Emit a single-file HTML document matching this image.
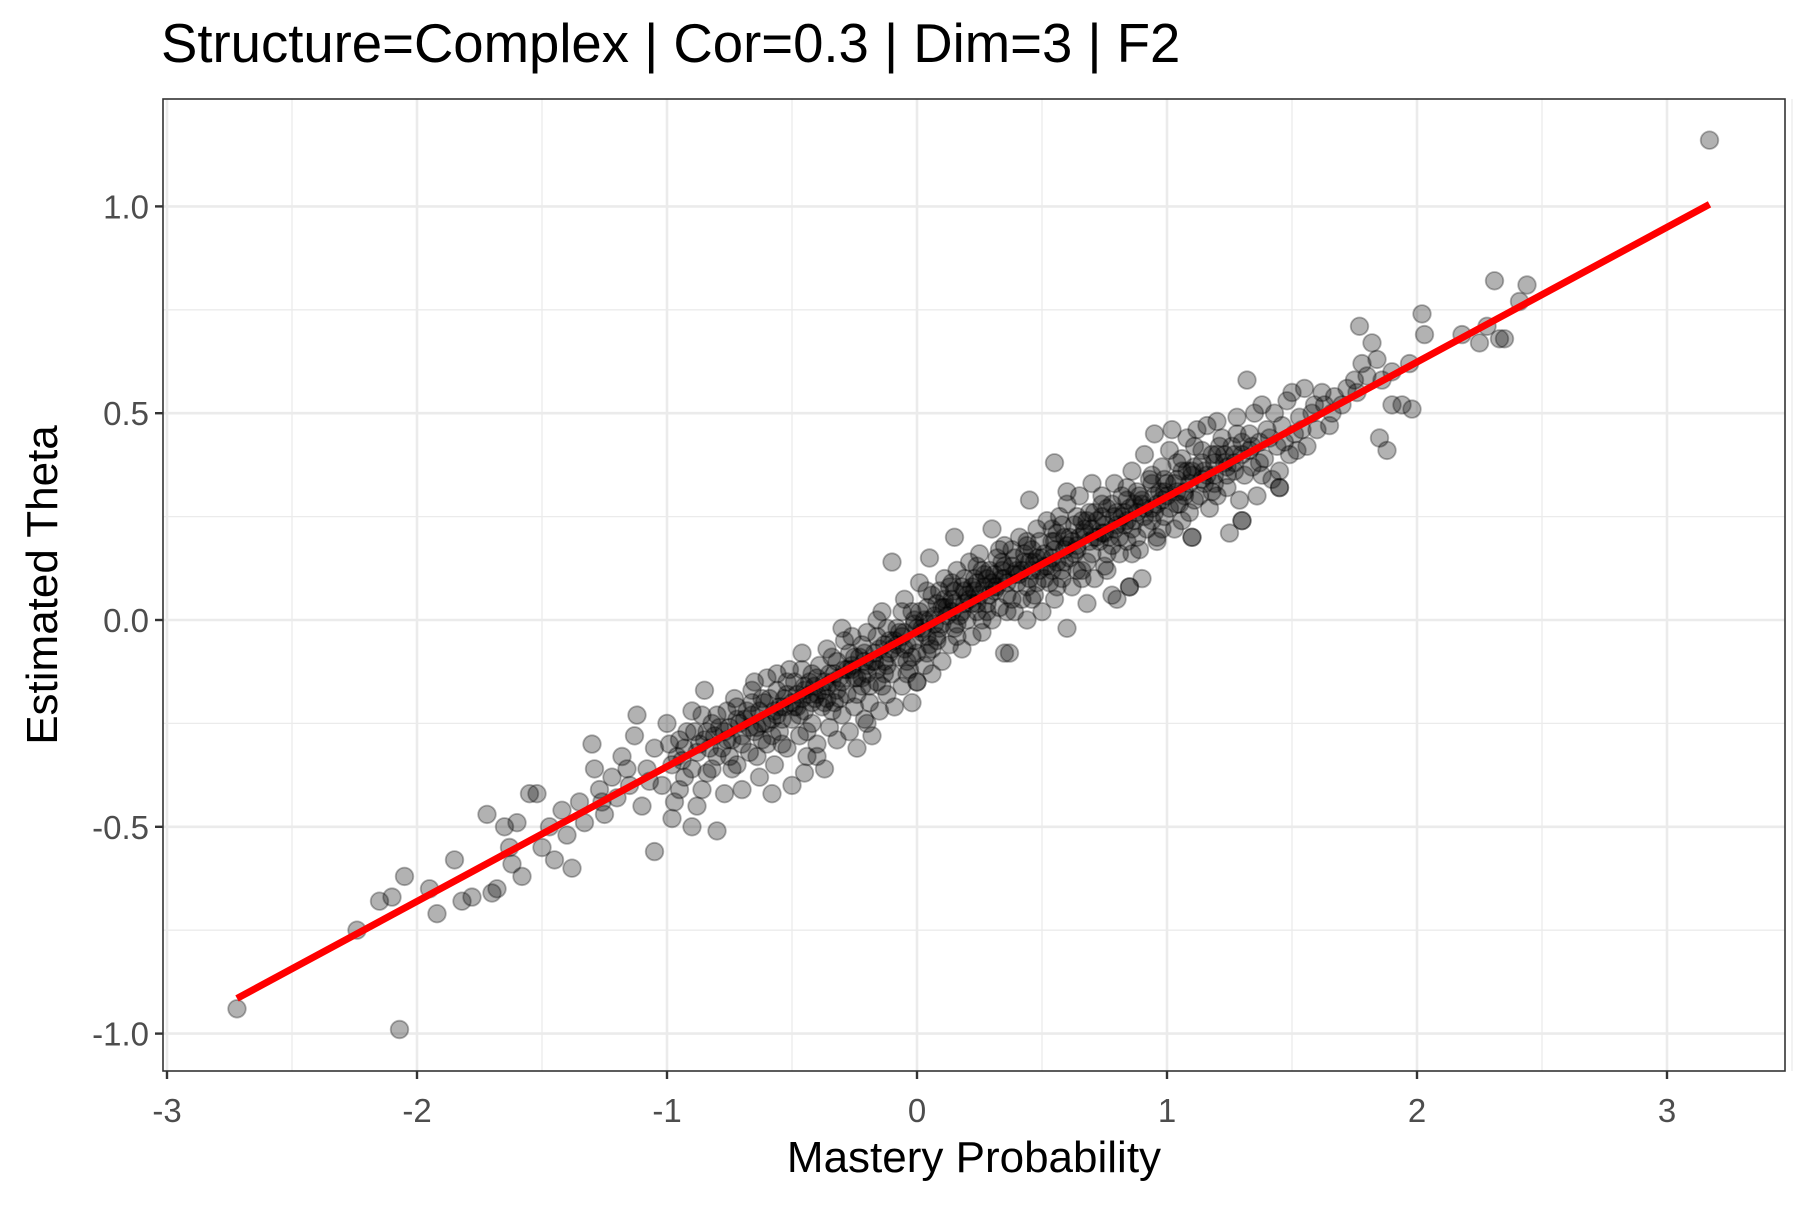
<!DOCTYPE html>
<html><head><meta charset="utf-8"><style>
body{margin:0;background:#fff}
svg text{font-family:"Liberation Sans",Arial,sans-serif}
</style></head><body>
<svg id="chart" width="1800" height="1200" xmlns="http://www.w3.org/2000/svg">
<text x="161" y="62" font-size="54.5" fill="#000">Structure=Complex | Cor=0.3 | Dim=3 | F2</text>
<rect x="163" y="99" width="1622" height="972" fill="#fff"/>
<g id="grid"></g>
<g id="pts"></g>
<g id="fit"></g>
<rect x="163" y="99" width="1622" height="972" fill="none" stroke="#333" stroke-width="1.6"/>
<g id="axes"></g>
<text x="974" y="1172" font-size="44" text-anchor="middle" fill="#000">Mastery Probability</text>
<text transform="translate(57,585) rotate(-90)" font-size="44" text-anchor="middle" fill="#000">Estimated Theta</text>
</svg>
<script>
const xTicks=[-3,-2,-1,0,1,2,3];
const xTickLabels=["-3","-2","-1","0","1","2","3"];
const yTicks=[-1.0,-0.5,0.0,0.5,1.0];
const yTickLabels=["-1.0","-0.5","0.0","0.5","1.0"];
const fitX=[-2.72,3.17];
const fitY=[-0.915,1.005];
const observations=[
[-2.72,-0.94],[-2.07,-0.99],[3.17,1.16],[2.31,0.82],[2.44,0.81],[2.41,0.77],[2.02,0.74],[1.77,0.71],[1.85,0.44],[1.88,0.41],[1.98,0.51],[2.33,0.68],[2.35,0.68],[2.18,0.69],[2.25,0.67],[1.97,0.62],[2.03,0.69],[2.28,0.71],[1.82,0.67],[1.9,0.6],[1.84,0.63],[1.8,0.59],[1.86,0.58],[1.94,0.52],
[-2.24,-0.75],[-2.05,-0.62],[-2.1,-0.67],[-2.15,-0.68],[-1.95,-0.65],[-1.92,-0.71],[-1.85,-0.58],[-1.82,-0.68],[-1.78,-0.67],[-1.7,-0.66],[-1.68,-0.65],[-1.72,-0.47],[-1.65,-0.5],[-1.63,-0.55],[-1.6,-0.49],[-1.55,-0.42],[-1.52,-0.42],[-1.58,-0.62],[-1.62,-0.59],[-1.5,-0.55],[-1.47,-0.5],[-1.45,-0.58],[-1.42,-0.46],[-1.4,-0.52],[-1.38,-0.6],[-1.35,-0.44],[-1.33,-0.49],[-1.3,-0.3],[-1.29,-0.36],[-1.27,-0.41],[-1.25,-0.47],[-1.22,-0.38],[-1.2,-0.43],[-1.18,-0.33],[-1.15,-0.4],[-1.13,-0.28],[-1.1,-0.45],[-1.08,-0.36],[-1.05,-0.56],[-1.05,-0.31],[-1.02,-0.4],[-1.0,-0.25],[-0.98,-0.35],[-0.97,-0.44],[-0.95,-0.29],[-0.93,-0.38],[-0.9,-0.5],[-0.9,-0.22],[-0.88,-0.32],[-0.86,-0.41],[-0.85,-0.17],[-0.84,-0.27],[-0.82,-0.36],[-0.8,-0.51],[-0.8,-0.23],[-0.78,-0.31],[-0.77,-0.42],[-0.75,-0.26],[-0.73,-0.19],[-0.72,-0.35],[-0.7,-0.41],[-0.7,-0.28],[-0.68,-0.22],[-0.67,-0.32],[-0.65,-0.15],[-0.64,-0.26],[-0.63,-0.38],[-0.61,-0.2],[-0.6,-0.3],[-0.58,-0.24],[-0.57,-0.35],[-0.56,-0.17],[-0.55,-0.27],[-0.53,-0.21],[-0.52,-0.31],[-0.51,-0.12],[-0.5,-0.4],[-0.5,-0.24],[-0.48,-0.18],[-0.47,-0.28],[-0.46,-0.08],[-0.45,-0.22],[-0.44,-0.33],[-0.43,-0.15],[-0.42,-0.25],[-0.41,-0.19],[-0.4,-0.3],[-0.39,-0.11],[-0.38,-0.21],[-0.37,-0.36],[-0.36,-0.16],[-0.35,-0.26],[-0.34,-0.09],[-0.33,-0.2],[-0.32,-0.29],[-0.31,-0.14],[-0.3,-0.23],[-0.29,-0.05],[-0.28,-0.18],[-0.27,-0.27],[-0.26,-0.12],[-0.25,-0.21],[-0.24,-0.31],[-0.23,-0.09],[-0.22,-0.16],[-0.21,-0.24],[-0.2,-0.03],[-0.2,-0.13],[-0.19,-0.2],[-0.18,-0.28],[-0.17,-0.08],[-0.16,-0.15],[-0.15,-0.22],[-0.14,0.02],[-0.13,-0.1],[-0.12,-0.18],[-0.11,-0.05],[-0.1,0.14],[-0.1,-0.13],[-0.09,-0.21],[-0.08,-0.02],[-0.07,-0.09],[-0.06,-0.16],[-0.05,0.05],[-0.04,-0.06],[-0.03,-0.12],[-0.02,-0.2],[-0.01,0.0],[0.0,-0.08],[0.0,-0.15],[0.01,0.09],[0.02,-0.03],[0.03,-0.11],[0.04,0.03],[0.05,0.15],[0.05,-0.06],[0.06,-0.13],[0.07,0.01],[0.08,-0.04],[0.09,0.07],[0.1,-0.1],[0.1,-0.01],[0.11,0.1],[0.12,0.03],[0.13,-0.06],[0.14,0.05],[0.15,-0.02],[0.16,0.12],[0.17,0.01],[0.18,-0.07],[0.19,0.07],[0.2,0.0],[0.21,0.14],[0.22,-0.04],[0.22,0.04],[0.23,0.1],[0.24,0.02],[0.25,0.16],[0.26,-0.03],[0.27,0.08],[0.28,0.04],[0.29,0.12],[0.3,0.22],[0.3,0.0],[0.31,0.07],[0.32,0.15],[0.33,0.03],[0.34,0.1],[0.35,-0.08],[0.35,0.18],[0.36,0.06],[0.37,-0.08],[0.38,0.13],[0.39,0.02],[0.4,0.09],[0.41,0.2],[0.42,0.05],[0.43,0.14],[0.44,0.0],[0.45,0.29],[0.45,0.1],[0.46,0.17],[0.47,0.06],[0.48,0.22],[0.49,0.12],[0.5,0.02],[0.51,0.16],[0.52,0.24],[0.53,0.09],[0.54,0.19],[0.55,0.38],[0.55,0.05],[0.56,0.14],[0.57,0.25],[0.58,0.1],[0.59,0.2],[0.6,-0.02],[0.6,0.28],[0.61,0.15],[0.62,0.08],[0.63,0.23],[0.64,0.17],[0.65,0.3],[0.66,0.12],[0.67,0.21],[0.68,0.04],[0.69,0.26],[0.7,0.33],[0.7,0.16],[0.71,0.1],[0.72,0.24],[0.73,0.19],[0.74,0.3],[0.75,0.13],[0.76,0.27],[0.77,0.2],[0.78,0.06],[0.79,0.33],[0.8,0.05],[0.8,0.23],[0.81,0.16],[0.82,0.3],[0.83,0.26],[0.84,0.19],[0.85,0.08],[0.86,0.36],[0.87,0.24],[0.88,0.31],[0.89,0.17],[0.9,0.1],[0.9,0.28],[0.91,0.4],[0.92,0.22],[0.93,0.34],[0.94,0.27],[0.95,0.45],[0.96,0.19],[0.97,0.31],[0.98,0.37],[0.99,0.25],[1.0,0.3],[1.01,0.41],[1.02,0.46],[1.03,0.22],[1.04,0.34],[1.05,0.28],[1.06,0.39],[1.07,0.31],[1.08,0.44],[1.09,0.26],[1.1,0.2],[1.1,0.36],[1.11,0.42],[1.12,0.46],[1.13,0.3],[1.14,0.38],[1.15,0.33],[1.16,0.47],[1.17,0.27],[1.18,0.4],[1.19,0.35],[1.2,0.48],[1.2,0.3],[1.22,0.44],[1.23,0.38],[1.24,0.32],[1.25,0.21],[1.26,0.42],[1.27,0.36],[1.28,0.49],[1.29,0.29],[1.3,0.24],[1.3,0.4],[1.32,0.58],[1.33,0.45],[1.34,0.37],[1.35,0.5],[1.36,0.3],[1.37,0.43],[1.38,0.52],[1.39,0.39],[1.4,0.46],[1.42,0.34],[1.43,0.5],[1.44,0.42],[1.45,0.32],[1.46,0.47],[1.48,0.53],[1.49,0.4],[1.5,0.55],[1.51,0.45],[1.53,0.49],[1.55,0.56],[1.56,0.42],[1.58,0.5],[1.6,0.46],[1.62,0.55],[1.63,0.52],[1.65,0.47],[1.67,0.54],[1.7,0.52],[1.72,0.56],[1.75,0.58],[1.76,0.55],[1.78,0.62],[1.9,0.52],[1.45,0.36],[1.52,0.41],
[-0.95,-0.41],[-0.85,-0.29],[-0.75,-0.33],[-0.65,-0.27],[-0.55,-0.21],[-0.45,-0.17],[-0.35,-0.13],[-0.25,-0.09],[-0.15,-0.07],[-0.05,-0.03],[0.05,0.0],[0.15,0.04],[0.25,0.06],[0.35,0.1],[0.45,0.14],[0.55,0.17],[0.65,0.2],[0.75,0.23],[0.85,0.27],[0.95,0.3],[-0.62,-0.25],[-0.48,-0.21],[-0.38,-0.17],[-0.28,-0.12],[-0.18,-0.1],[-0.08,-0.06],[0.02,-0.02],[0.12,0.01],[0.22,0.08],[0.32,0.08],[0.42,0.12],[0.52,0.13],[0.62,0.19],[0.72,0.2],[0.82,0.25],[-0.72,-0.24],[-0.52,-0.18],[-0.32,-0.1],[-0.12,-0.02],[0.08,0.04],[0.28,0.1],[0.48,0.15],[0.68,0.24],[0.88,0.26],[-0.58,-0.28],[-0.42,-0.2],[-0.22,-0.14],[-0.02,-0.09],[0.18,0.02],[0.38,0.05],[0.58,0.12],[0.78,0.18],[0.98,0.22],
[-0.4,-0.33],[-0.2,-0.25],[0.0,-0.15],[0.85,0.08],[1.1,0.2],[1.3,0.24],[1.45,0.32],[-0.3,-0.02],[-0.6,-0.14],[0.15,0.2],[0.6,0.31],[-1.12,-0.23],[-0.98,-0.48],[-0.88,-0.45],[-0.58,-0.42],[-0.45,-0.37],
[-1.26,-0.44],[-1.16,-0.36],[-1.07,-0.39],[-0.99,-0.3],[-0.94,-0.34],[-0.89,-0.27],[-0.83,-0.31],[-0.79,-0.26],[-0.74,-0.29],[-0.69,-0.24],[-0.66,-0.2],[-0.62,-0.29],[-0.59,-0.19],[-0.54,-0.24],[-0.49,-0.15],[-0.47,-0.23],[-0.43,-0.18],[-0.4,-0.14],[-0.37,-0.2],[-0.34,-0.15],[-0.31,-0.19],[-0.27,-0.08],[-0.24,-0.14],[-0.21,-0.1],[-0.19,-0.16],[-0.16,-0.04],[-0.13,-0.13],[-0.11,-0.08],[-0.07,-0.03],[-0.04,-0.1],[-0.01,-0.05],[0.01,0.02],[0.04,-0.08],[0.06,0.06],[0.09,-0.02],[0.11,0.03],[0.13,0.08],[0.16,-0.01],[0.19,0.1],[0.21,0.05],[0.24,0.09],[0.26,0.12],[0.29,0.06],[0.31,0.11],[0.33,0.17],[0.36,0.09],[0.39,0.15],[0.41,0.11],[0.44,0.18],[0.46,0.12],[0.49,0.19],[0.51,0.1],[0.54,0.15],[0.56,0.21],[0.59,0.14],[0.61,0.2],[0.64,0.12],[0.66,0.24],[0.69,0.19],[0.71,0.26],[0.74,0.21],[0.76,0.16],[0.79,0.25],[0.81,0.2],[0.84,0.29],[0.86,0.22],[0.89,0.3],[0.91,0.25],[0.94,0.33],[0.96,0.28],[0.99,0.34],[1.01,0.27],[1.04,0.31],[1.06,0.36],[1.09,0.33],[1.11,0.29],[1.14,0.41],[1.16,0.35],[1.19,0.38],[1.21,0.42],[1.24,0.37],[1.27,0.4],[1.31,0.35],[1.34,0.42],[1.37,0.38],[1.41,0.44],[1.47,0.43],[1.54,0.46],[1.59,0.52],[1.66,0.5],
[-0.9,-0.36],[-0.8,-0.33],[-0.7,-0.3],[-0.6,-0.25],[-0.5,-0.2],[-0.4,-0.18],[-0.3,-0.15],[-0.2,-0.11],[-0.1,-0.07],[0.0,-0.02],[0.1,0.03],[0.2,0.06],[0.3,0.09],[0.4,0.12],[0.5,0.15],[0.6,0.18],[0.7,0.22],[0.8,0.26],[0.9,0.29],[1.0,0.33],[1.1,0.35],[1.2,0.4],[1.3,0.43],
[-0.86,-0.23],[-0.76,-0.22],[-0.66,-0.17],[-0.56,-0.13],[-0.46,-0.12],[-0.36,-0.07],[-0.26,-0.04],[-0.16,0.0],[-0.06,0.02],[0.04,0.07],[0.14,0.09],[0.24,0.13],[0.34,0.14],[0.44,0.19],[0.54,0.22],[0.64,0.25],[0.74,0.28],[0.84,0.32],[0.94,0.35],[1.04,0.38],
[-0.84,-0.37],[-0.74,-0.36],[-0.64,-0.33],[-0.54,-0.3],[-0.44,-0.27],[-0.34,-0.22],[-0.24,-0.18],[-0.14,-0.16],[-0.04,-0.13],[0.06,-0.07],[0.16,-0.04],[0.26,0.0],[0.36,0.02],[0.46,0.05],[0.56,0.08],[0.66,0.1],[0.76,0.12],[0.86,0.16],[0.96,0.2],[1.06,0.24],
[-0.93,-0.31],[-0.87,-0.3],[-0.81,-0.28],[-0.77,-0.27],[-0.71,-0.25],[-0.67,-0.26],[-0.63,-0.22],[-0.57,-0.22],[-0.53,-0.19],[-0.49,-0.21],[-0.45,-0.16],[-0.41,-0.16],[-0.37,-0.15],[-0.33,-0.13],[-0.29,-0.12],[-0.25,-0.14],[-0.21,-0.08],[-0.17,-0.1],[-0.13,-0.06],[-0.09,-0.05],[-0.05,-0.07],[-0.01,-0.01],[0.03,0.0],[0.07,-0.01],[0.11,0.05],[0.15,0.07],[0.19,0.04],[0.23,0.07],[0.27,0.11],[0.31,0.08],[0.35,0.13],[0.39,0.11],[0.43,0.16],[0.47,0.14],[0.51,0.13],[0.55,0.19],[0.59,0.17],[0.63,0.16],[0.67,0.22],[0.71,0.2],[0.75,0.21],[0.79,0.22],[0.83,0.23],[0.87,0.28],[0.91,0.27],[0.95,0.26],[0.99,0.31],[1.03,0.33],[1.07,0.3],[1.11,0.37],[1.15,0.36],[1.19,0.33],[1.23,0.4],[1.27,0.38],[1.33,0.41],
[-0.92,-0.27],[-0.82,-0.25],[-0.72,-0.21],[-0.62,-0.19],[-0.52,-0.15],[-0.42,-0.13],[-0.32,-0.17],[-0.22,-0.06],[-0.12,-0.11],[-0.02,0.02],[0.08,-0.05],[0.18,0.08],[0.28,0.02],[0.38,0.17],[0.48,0.09],[0.58,0.23],[0.68,0.14],[0.78,0.28],[0.88,0.2],[0.98,0.29],[1.08,0.36],[1.18,0.31],[1.28,0.45],[1.38,0.35],
[-0.96,-0.33],[-0.76,-0.29],[-0.56,-0.23],[-0.36,-0.19],[-0.16,-0.12],[0.04,-0.04],[0.24,0.04],[0.44,0.08],[0.64,0.18],[0.84,0.24],[1.04,0.28],[1.24,0.35],[-0.66,-0.23],[-0.46,-0.19],[-0.26,-0.11],[-0.06,-0.04],[0.14,0.02],[0.34,0.12],[0.54,0.12],[0.74,0.25],[0.94,0.24],[1.14,0.34]
];
const X0=917,XS=250,Y0=620,YS=413.6;
function sx(v){return X0+v*XS;}
function sy(v){return Y0-v*YS;}
const NS="http://www.w3.org/2000/svg";
const L=163,R=1785,T=99,B=1071;
const grid=document.getElementById('grid');
function gl(x1,y1,x2,y2,w,nm){const l=document.createElementNS(NS,'line');l.setAttribute('x1',x1);l.setAttribute('y1',y1);l.setAttribute('x2',x2);l.setAttribute('y2',y2);l.setAttribute('stroke','#ebebeb');l.setAttribute('stroke-width',w);


grid.appendChild(l);}
for(let i=0;i<xTicks.length-1;i++){const m=(xTicks[i]+xTicks[i+1])/2;gl(sx(m),T,sx(m),B,1.3,'x-minor-gridline');}
for(let i=0;i<yTicks.length-1;i++){const m=(yTicks[i]+yTicks[i+1])/2;gl(L,sy(m),R,sy(m),1.3,'y-minor-gridline');}
gl(sx(3.5),T,sx(3.5),B,1.3,'x-minor-gridline');
xTicks.forEach(v=>gl(sx(v),T,sx(v),B,2.6,'x-major-gridline'));
yTicks.forEach(v=>gl(L,sy(v),R,sy(v),2.6,'y-major-gridline'));
const pts=document.getElementById('pts');
observations.forEach(p=>{const c=document.createElementNS(NS,'circle');c.setAttribute('cx',sx(p[0]).toFixed(1));c.setAttribute('cy',sy(p[1]).toFixed(1));c.setAttribute('r',8.8);c.setAttribute('fill','rgba(0,0,0,0.3)');c.setAttribute('stroke','rgba(0,0,0,0.3)');c.setAttribute('stroke-width',1.8);


pts.appendChild(c);});
const fit=document.getElementById('fit');
const fl=document.createElementNS(NS,'line');
fl.setAttribute('x1',sx(fitX[0]));fl.setAttribute('y1',sy(fitY[0]));fl.setAttribute('x2',sx(fitX[1]));fl.setAttribute('y2',sy(fitY[1]));
fl.setAttribute('stroke','#ff0000');fl.setAttribute('stroke-width',7);


fit.appendChild(fl);
const axes=document.getElementById('axes');
xTicks.forEach((v,i)=>{const t=document.createElementNS(NS,'line');t.setAttribute('x1',sx(v));t.setAttribute('x2',sx(v));t.setAttribute('y1',B);t.setAttribute('y2',B+8);t.setAttribute('stroke','#333');t.setAttribute('stroke-width',2.4);


axes.appendChild(t);
const tx=document.createElementNS(NS,'text');tx.setAttribute('x',sx(v));tx.setAttribute('y',1122);tx.setAttribute('font-size',33);tx.setAttribute('fill','#4d4d4d');tx.setAttribute('text-anchor','middle');tx.textContent=xTickLabels[i];


axes.appendChild(tx);});
yTicks.forEach((v,i)=>{const t=document.createElementNS(NS,'line');t.setAttribute('x1',L-8);t.setAttribute('x2',L);t.setAttribute('y1',sy(v));t.setAttribute('y2',sy(v));t.setAttribute('stroke','#333');t.setAttribute('stroke-width',2.4);


axes.appendChild(t);
const tx=document.createElementNS(NS,'text');tx.setAttribute('x',L-14);tx.setAttribute('y',sy(v)+12);tx.setAttribute('font-size',33);tx.setAttribute('fill','#4d4d4d');tx.setAttribute('text-anchor','end');tx.textContent=yTickLabels[i];


axes.appendChild(tx);});
</script>
</body></html>
